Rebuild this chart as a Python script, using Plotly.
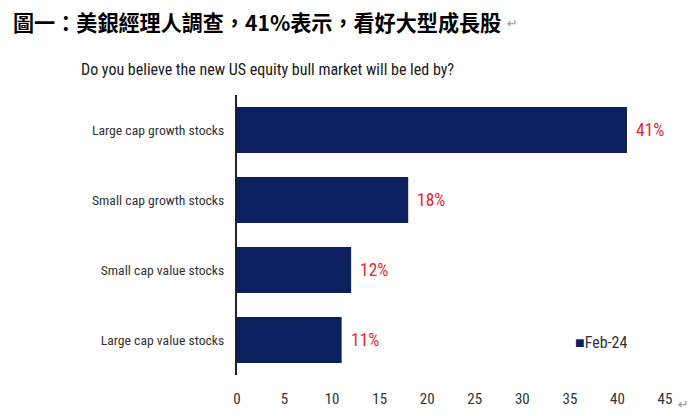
import plotly.graph_objects as go

categories = ["Large cap growth stocks", "Small cap growth stocks", "Small cap value stocks", "Large cap value stocks"]
values = [41, 18, 12, 11]
series_name = "Feb-24"
x_ticks = [0, 5, 10, 15, 20, 25, 30, 35, 40, 45]

title_text = "圖一：美銀經理人調查，41%表示，看好大型成長股"
subtitle_text = "Do you believe the new US equity bull market will be led by?"

NAVY = "#0c2060"
RED = "#e8262b"
NARROW = "Liberation Sans Narrow, Arial Narrow, Roboto Condensed, sans-serif"

fig = go.Figure()
fig.add_trace(go.Bar(
    y=categories, x=values, orientation="h", name=series_name,
    marker=dict(color=NAVY, line=dict(width=0)),
    showlegend=False,
))

for c, v in zip(categories, values):
    fig.add_annotation(x=v, y=c, xref="x", yref="y", text=f"{v}%",
                       showarrow=False, xanchor="left", xshift=7,
                       font=dict(family=NARROW, size=17.5, color=RED))

# title (figure is offset by the page's 8px body margin; plot left sits at x=236 on screen)
fig.add_annotation(x=0, y=1, xref="paper", yref="paper", xanchor="left", yanchor="middle",
                   text=f"<b>{title_text}</b>", showarrow=False,
                   font=dict(family="Noto Sans CJK TC", size=21.1, color="#000000"),
                   xshift=-226, yshift=95-22)
fig.add_annotation(x=0, y=1, xref="paper", yref="paper", xanchor="left", yanchor="middle",
                   text="↵", showarrow=False,
                   font=dict(family="DejaVu Sans", size=13, color="#9a9a9a"),
                   xshift=-236+504, yshift=95-23)
fig.add_annotation(x=0, y=1, xref="paper", yref="paper", xanchor="left", yanchor="middle",
                   text=subtitle_text, showarrow=False,
                   font=dict(family=NARROW, size=16, color="#1a1a1a"),
                   xshift=-236+78, yshift=95-69)
fig.add_annotation(x=1, y=0, xref="paper", yref="paper", xanchor="left", yanchor="middle",
                   text="↵", showarrow=False,
                   font=dict(family="DejaVu Sans", size=13, color="#9a9a9a"),
                   xshift=11, yshift=-29)
# legend entry
fig.add_annotation(x=0, y=0, xref="paper", yref="paper", xanchor="left", yanchor="middle",
                   text=f"<span style='color:{NAVY}'>■</span>{series_name}", showarrow=False,
                   font=dict(family=NARROW, size=16, color="#333333"),
                   xshift=336, yshift=33)

fig.update_layout(
    width=689, height=408,
    margin=dict(l=229, r=32, t=87, b=41, autoexpand=False),
    paper_bgcolor="white", plot_bgcolor="white",
    bargap=0.34,
    xaxis=dict(range=[0, 45], tickvals=x_ticks, showgrid=False, zeroline=False,
               showline=False, ticks="", ticklabelstandoff=13, automargin=False,
               tickfont=dict(family=NARROW, size=15, color="#333333"),
               fixedrange=True),
    yaxis=dict(categoryorder="array", categoryarray=categories[::-1],
               range=[-0.5, 3.5], showgrid=False, zeroline=False,
               showline=True, linecolor="#222222", linewidth=2, ticks="",
               ticklabelstandoff=8, automargin=False,
               tickfont=dict(family=NARROW, size=13.7, color="#333333")),
)

fig.write_html("out.html")
